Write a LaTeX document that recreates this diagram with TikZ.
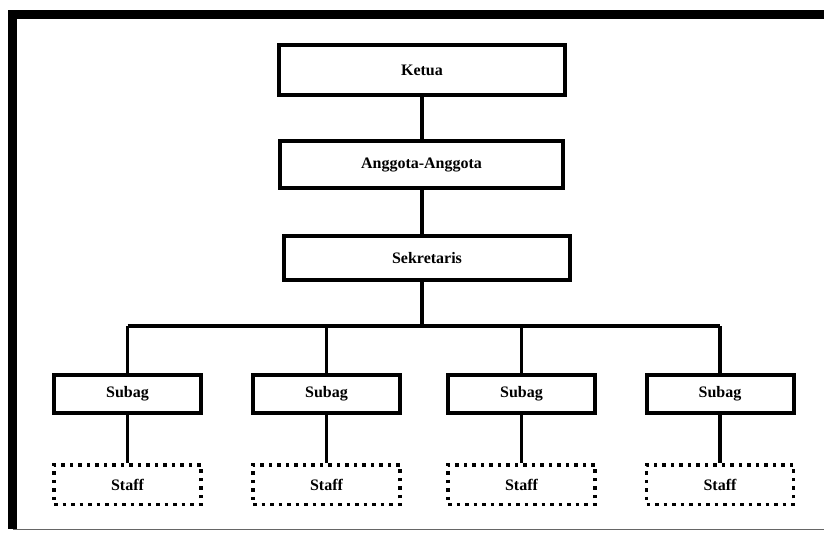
\documentclass[tikz,border=0pt]{standalone}
\usepackage{fontspec}
\setmainfont{Liberation Serif}
\begin{document}
\begin{tikzpicture}[x=1pt,y=-1pt,
    box/.style={draw,line width=4pt,minimum width=147pt,minimum height=38pt,inner sep=0pt,font=\fontsize{16}{19}\selectfont\bfseries},
    staffbox/.style={box,line width=3.5pt,dash pattern=on 3.5pt off 5pt,minimum height=39.5pt},
    conn/.style={line width=3.5pt}]
    \useasboundingbox (0,0) rectangle (824,533);
    % frame
    \draw[line width=8.5pt] (824,14.5)--(12.5,14.5)--(12.5,529);
    \draw[line width=1.5pt,black!60] (12.5,529.5)--(824,529.5);
    % top of the chart
    \node[box,minimum width=286pt,minimum height=50pt] (ketua) at (422,70) {Ketua};
    \node[box,minimum width=283pt,minimum height=47pt] (anggota) at (421.5,164.5) {Anggota-Anggota};
    \node[box,minimum width=286pt,minimum height=44pt] (sekretaris) at (427,258) {Sekretaris};
    \draw[conn] (ketua.south)--(ketua.south |- anggota.north);
    \draw[conn] (anggota.south -| ketua)--(ketua |- sekretaris.north);
    \coordinate (bus) at (422,326);
    \draw[conn] (sekretaris.south -| bus)--(bus);
    % subag and staff
    \foreach \i/\x in {1/127.5,2/326.5,3/521.5,4/720}{
        \node[box] (sub\i) at (\x,394) {Subag};
        \node[staffbox] (staff\i) at (\x,484.5) {Staff};
        \draw[conn] (sub\i.north)--(sub\i.north |- bus);
        \draw[conn] (sub\i)--(staff\i);
    }
    \draw[conn] (sub1.north |- bus)--(sub4.north |- bus);
\end{tikzpicture}
\end{document}
